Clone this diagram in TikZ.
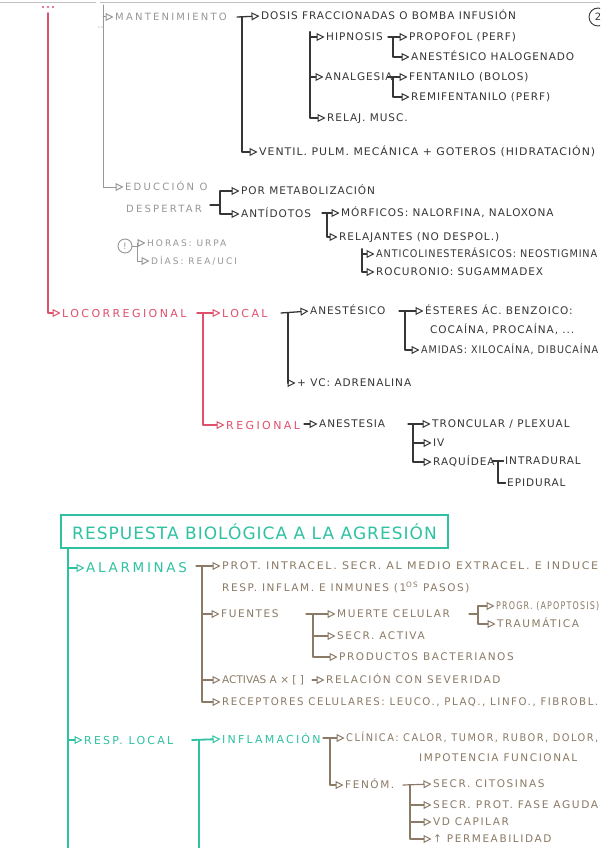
\documentclass[tikz,border=0pt]{standalone}
\usepackage{fontspec}
\usepackage{graphicx}
\setmainfont{DejaVu Sans}
\newfontfamily\fdk[LetterSpace=9]{DejaVu Sans}
\newfontfamily\fgy[LetterSpace=22]{DejaVu Sans}
\newfontfamily\frd[LetterSpace=22]{DejaVu Sans}
\newfontfamily\fvd[LetterSpace=20]{DejaVu Sans}
\newfontfamily\fti[LetterSpace=6]{DejaVu Sans}
\newfontfamily\fbr[LetterSpace=15]{DejaVu Sans}
\newfontfamily\fbrn{DejaVu Sans}
\usetikzlibrary{arrows.meta}
\definecolor{ink}{HTML}{363636}
\definecolor{pencil}{HTML}{979797}
\definecolor{rosa}{HTML}{E0506D}
\definecolor{verde}{HTML}{2EC2A2}
\definecolor{marron}{HTML}{8B7A66}
\newcommand\fitw[2]{\resizebox{#1pt}{\height}{#2}}
\begin{document}
\begin{tikzpicture}[x=1pt,y=-1pt,
  txt/.style={anchor=west, inner sep=0pt, text depth=0pt},
  dk/.style={txt, text=ink, font=\fdk\fontsize{10.5}{12}\selectfont, text height=7.6pt},
  gy/.style={txt, text=pencil, font=\fgy\fontsize{10}{12}\selectfont, text height=7.3pt},
  gys/.style={txt, text=pencil, font=\fgy\fontsize{9}{10}\selectfont, text height=6.5pt},
  rd/.style={txt, text=rosa, font=\frd\fontsize{11}{13}\selectfont, text height=8pt},
  vd/.style={txt, text=verde, font=\fvd\fontsize{13.5}{15}\selectfont, text height=9.8pt},
  vds/.style={txt, text=verde, font=\fvd\fontsize{11}{13}\selectfont, text height=8pt},
  br/.style={txt, text=marron, font=\fbr\fontsize{10.5}{12}\selectfont, text height=7.6pt},
  ln/.style={line width=1.3pt, line cap=round, line join=round},
  arr/.style={ln, -{Triangle[open, length=8pt, width=8pt, line width=1pt]}, shorten >=1.5pt},
]
\useasboundingbox (0,0) rectangle (600,848);
\clip (0,0) rectangle (600,848);
\fill[white] (0,0) rectangle (600,848);

% faint page edge line and marks
\draw[pencil!60, line width=0.8pt] (0,2) -- (96,2) (100,2) -- (600,2);
\fill[rosa] (43,7) circle (1.1) (48,7) circle (1.1) (53,7) circle (1.1);
\fill[pencil] (99,27) circle (0.6) (102,27) circle (0.6);
\node[circle, draw=ink, line width=0.9pt, minimum size=18pt, inner sep=0pt, text=ink, font=\fontsize{10}{12}\selectfont] (pg) at (598,17) {2};

% ---------- RED: locorregional ----------
\coordinate (rtop) at (48,13);
\node[rd] (locorr) at (62,313) {LOCORREGIONAL};
\draw[arr, rosa, line width=1.8pt] (rtop) |- (locorr.west);
\node[rd] (local) at (222,313) {LOCAL};
\node[rd] (regional) at (226,425) {REGIONAL};
\coordinate (rT0) at (197,313);
\coordinate (rT1) at (203,313);
\draw[arr, rosa, line width=1.6pt] (rT0) -- (local.west);
\draw[arr, rosa, line width=1.6pt] (rT1) |- (regional.west);

% ---------- GRAY trunk ----------
\coordinate (g0) at (103,5);
\node[gy] (mant) at (115,17) {MANTENIMIENTO};
\node[gy] (educ) at (125,187) {EDUCCIÓN O};
\node[gy] (desp) at (126,209) {DESPERTAR};
\draw[arr, pencil, line width=1pt] (g0) |- (educ.west);
\draw[arr, pencil, line width=1pt] (g0 |- mant.west) -- (mant.west);

% ---------- DARK: mantenimiento ----------
\node[dk] (dosis) at (261,16) {DOSIS FRACCIONADAS O BOMBA INFUSIÓN};
\node[dk] (ventil) at (259,152) {\fitw{336}{VENTIL. PULM. MECÁNICA + GOTEROS (HIDRATACIÓN)}};
\coordinate (m0) at (237,17);
\coordinate (m1) at (242,17);
\draw[arr, ink] (m0) -- (dosis.west);
\draw[arr, ink] (m1) |- (ventil.west);

\node[dk] (hipnosis) at (326,37) {HIPNOSIS};
\node[dk] (analgesia) at (325,77) {ANALGESIA};
\node[dk] (relaj) at (327,118) {RELAJ. MUSC.};
\coordinate (h0) at (310,32);
\draw[arr, ink] (h0) |- (hipnosis.west);
\draw[arr, ink] (h0) |- (analgesia.west);
\draw[arr, ink] (h0) |- (relaj.west);

\node[dk] (propofol) at (409,37) {PROPOFOL (PERF)};
\node[dk] (halog) at (411,57) {ANESTÉSICO HALOGENADO};
\coordinate (hp0) at (388,37);
\coordinate (hp1) at (393,37);
\draw[arr, ink] (hp0) -- (propofol.west);
\draw[arr, ink] (hp1) |- (halog.west);

\node[dk] (fentanilo) at (409,77) {FENTANILO (BOLOS)};
\node[dk] (remifent) at (411,97) {REMIFENTANILO (PERF)};
\coordinate (an0) at (388,77);
\coordinate (an1) at (393,77);
\draw[arr, ink] (an0) -- (fentanilo.west);
\draw[arr, ink] (an1) |- (remifent.west);

% ---------- DARK: educción ----------
\node[dk] (pormetab) at (241,191) {POR METABOLIZACIÓN};
\node[dk] (antidotos) at (241,214) {ANTÍDOTOS};
\coordinate (e0) at (210,205);
\coordinate (e1) at (220,205);
\draw[ln, ink] (e0) -- (e1);
\draw[arr, ink] (e1) |- (pormetab.west);
\draw[arr, ink] (e1) |- (antidotos.west);

\node[dk] (morficos) at (341,213) {MÓRFICOS: NALORFINA, NALOXONA};
\node[dk] (relajantes) at (339,237) {RELAJANTES (NO DESPOL.)};
\coordinate (d0) at (322,213);
\coordinate (d1) at (327,213);
\draw[arr, ink] (d0) -- (morficos.west);
\draw[arr, ink] (d1) |- (relajantes.west);

\node[dk] (anticolin) at (376,254) {\fitw{221}{ANTICOLINESTERÁSICOS: NEOSTIGMINA}};
\node[dk] (rocuronio) at (376,272) {ROCURONIO: SUGAMMADEX};
\coordinate (rc0) at (362,249);
\draw[arr, ink] (rc0) |- (anticolin.west);
\draw[arr, ink] (rc0) |- (rocuronio.west);

% gray (!) note
\node[circle, draw=pencil, line width=0.9pt, minimum size=14pt, inner sep=0pt, text=pencil, font=\fontsize{9}{10}\selectfont] (excl) at (125,246) {!};
\node[gys] (horas) at (147,243) {HORAS: URPA};
\node[gys] (dias) at (151,261) {DÍAS: REA/UCI};
\coordinate (x1) at (137,246);
\draw[ln, pencil, line width=1pt] (excl.east) -- (x1);
\draw[arr, pencil, line width=1pt] (x1) |- (horas.west);
\draw[arr, pencil, line width=1pt] (x1) |- (dias.west);

% ---------- DARK: local / regional ----------
\node[dk] (anestesico) at (310,311) {ANESTÉSICO};
\node[dk] (vc) at (297,383) {+ VC: ADRENALINA};
\coordinate (l0) at (281,313);
\coordinate (l1) at (288,313);
\draw[arr, ink] (l0) -- (anestesico.west);
\draw[arr, ink] (l1) |- (vc.west);

\node[dk] (esteres) at (425,311) {ÉSTERES ÁC. BENZOICO:};
\node[dk] (cocaina) at (430,330) {COCAÍNA, PROCAÍNA, ...};
\node[dk] (amidas) at (421,350) {\fitw{177}{AMIDAS: XILOCAÍNA, DIBUCAÍNA}};
\coordinate (s0) at (399,311);
\coordinate (s1) at (405,311);
\draw[arr, ink] (s0) -- (esteres.west);
\draw[arr, ink] (s1) |- (amidas.west);

\node[dk] (anestesia) at (319,424) {ANESTESIA};
\coordinate (n0) at (304,424);
\draw[arr, ink] (n0) -- (anestesia.west);

\node[dk] (troncular) at (432,424) {TRONCULAR / PLEXUAL};
\node[dk] (iv) at (433,443) {IV};
\node[dk] (raquidea) at (433,462) {RAQUÍDEA};
\coordinate (t0) at (408,424);
\coordinate (t1) at (413,424);
\draw[arr, ink] (t0) -- (troncular.west);
\draw[arr, ink] (t1) |- (iv.west);
\draw[arr, ink] (t1) |- (raquidea.west);

\node[dk] (intradural) at (505,461) {INTRADURAL};
\node[dk] (epidural) at (507,483) {EPIDURAL};
\coordinate (q0) at (492,461);
\coordinate (q1) at (498,461);
\draw[ln, ink, shorten >=1.5pt] (q0) -- (intradural.west);
\draw[ln, ink, shorten >=1.5pt] (q1) |- (epidural.west);

% ---------- TEAL ----------
\node[draw=verde, line width=2pt, minimum width=387pt, minimum height=33pt, inner sep=0pt, text=verde, font=\fti\fontsize{17}{19}\selectfont] (title) at (254.5,531.5) {RESPUESTA BIOLÓGICA A LA AGRESIÓN};
\coordinate (v1) at (68,548);
\coordinate (vend) at (68,852);
\draw[ln, verde, line width=2pt] (v1) -- (vend);
\node[vd] (alarminas) at (86,568) {ALARMINAS};
\node[vds] (resplocal) at (84,740) {RESP. LOCAL};
\draw[arr, verde, line width=1.8pt] (v1 |- alarminas.west) -- (alarminas.west);
\draw[arr, verde, line width=1.8pt] (v1 |- resplocal.west) -- (resplocal.west);

\node[vds] (inflam) at (222,739) {INFLAMACIÓN};
\coordinate (p0) at (192,740);
\coordinate (p1) at (199,740);
\coordinate (pend) at (199,852);
\draw[arr, verde, line width=1.8pt] (p0) -- (inflam.west);
\draw[ln, verde, line width=2pt] (p1) -- (pend);

% ---------- BROWN ----------
\node[br] (prot) at (222,566) {\fitw{376}{PROT. INTRACEL. SECR. AL MEDIO EXTRACEL. E INDUCE}};
\node[br] (prot2) at (222,588) {RESP. INFLAM. E INMUNES (1\textsuperscript{OS} PASOS)};
\node[br] (fuentes) at (221,614) {FUENTES};
\node[br, font=\fbrn\fontsize{10.5}{12}\selectfont] (activas) at (222,680) {ACTIVAS A × [ ]};
\node[br] (receptores) at (222,702) {\fitw{376}{RECEPTORES CELULARES: LEUCO., PLAQ., LINFO., FIBROBL.}};
\coordinate (b0) at (196,566);
\coordinate (b1) at (202,566);
\draw[arr, marron, line width=1.2pt] (b0) -- (prot.west);
\draw[arr, marron, line width=1.2pt] (b1) |- (fuentes.west);
\draw[arr, marron, line width=1.2pt] (b1) |- (activas.west);
\draw[arr, marron, line width=1.2pt] (b1) |- (receptores.west);

\node[br] (muerte) at (337,614) {MUERTE CELULAR};
\node[br] (secract) at (337,636) {SECR. ACTIVA};
\node[br] (productos) at (339,657) {PRODUCTOS BACTERIANOS};
\coordinate (f0) at (306,614);
\coordinate (f1) at (313,614);
\draw[arr, marron, line width=1.2pt] (f0) -- (muerte.west);
\draw[arr, marron, line width=1.2pt] (f1) |- (secract.west);
\draw[arr, marron, line width=1.2pt] (f1) |- (productos.west);

\node[br] (progr) at (496,606) {\fitw{103}{PROGR. (APOPTOSIS)}};
\node[br] (traum) at (497,624) {TRAUMÁTICA};
\coordinate (u0) at (469,614);
\coordinate (u1) at (478,614);
\draw[ln, marron, line width=1.2pt] (u0) -- (u1);
\draw[arr, marron, line width=1.2pt] (u1) |- (progr.west);
\draw[arr, marron, line width=1.2pt] (u1) |- (traum.west);

\node[br] (relacion) at (326,680) {RELACIÓN CON SEVERIDAD};
\draw[arr, marron, line width=1.2pt, shorten <=8pt] (activas.east) -- (relacion.west);

\node[br] (clinica) at (346,738) {\fitw{252}{CLÍNICA: CALOR, TUMOR, RUBOR, DOLOR,}};
\node[br] (impot) at (419,758) {IMPOTENCIA FUNCIONAL};
\node[br] (fenom) at (345,785) {FENÓM.};
\coordinate (i0) at (323,738);
\coordinate (i1) at (330,738);
\draw[arr, marron, line width=1.2pt] (i0) -- (clinica.west);
\draw[arr, marron, line width=1.2pt] (i1) |- (fenom.west);

\node[br] (citos) at (433,784) {SECR. CITOSINAS};
\node[br] (secrprot) at (433,805) {\fitw{165}{SECR. PROT. FASE AGUDA}};
\node[br] (vd) at (433,822) {VD CAPILAR};
\node[br] (perm) at (433,839) {↑ PERMEABILIDAD};
\coordinate (k0) at (403,785);
\coordinate (k1) at (410,785);
\draw[arr, marron, line width=1.2pt] (k0) -- (citos.west);
\draw[arr, marron, line width=1.2pt] (k1) |- (secrprot.west);
\draw[arr, marron, line width=1.2pt] (k1) |- (vd.west);
\draw[arr, marron, line width=1.2pt] (k1) |- (perm.west);
\end{tikzpicture}
\end{document}
